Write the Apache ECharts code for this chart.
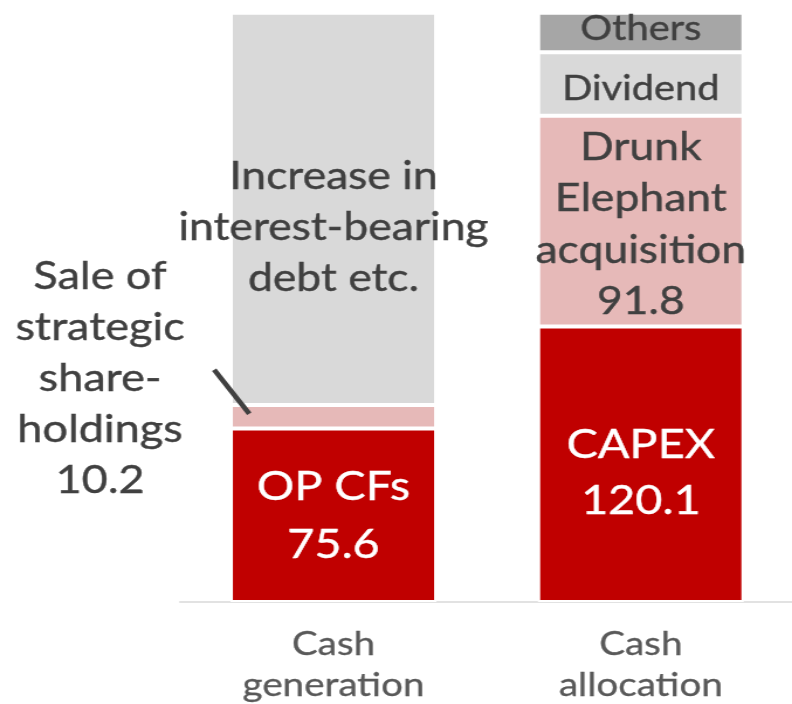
<!DOCTYPE html>
<html lang="en">
<head>
    <meta charset="UTF-8">
    <title>Cash generation / allocation</title>
    <script src="https://cdn.jsdelivr.net/npm/echarts@6/dist/echarts.min.js"></script>
    <style>
        html, body { margin: 0; padding: 0; overflow: hidden; background: #fff; }
        /* the source picture is stretched sideways, so the chart is drawn narrow and widened */
        #main { width: 677px; height: 704px; transform: scaleX(1.1699); transform-origin: 0 0; }
    </style>
</head>
<body>
<div id="main"></div>

<script type="text/javascript">
    // data
    var categories = ['Cash\ngeneration', 'Cash\nallocation'];

    var generationNames = ['OP CFs', 'Sale of strategic share-holdings', 'Increase in interest-bearing debt etc.'];
    var generationValues = [75.6, 10.2, 171];
    var generationLabels = ['OP CFs\n75.6', 'Sale of\nstrategic\nshare-\nholdings\n10.2', 'Increase in\ninterest-bearing\ndebt etc.'];

    var allocationNames = ['CAPEX', 'Drunk Elephant acquisition', 'Dividend', 'Others'];
    var allocationValues = [120.1, 91.8, 27.7, 17.2];
    var allocationLabels = ['CAPEX\n120.1', 'Drunk\nElephant\nacquisition\n91.8', 'Dividend', 'Others'];

    // styles
    var red = '#C00000', pink = '#E6B9B8', light = '#D9D9D9', mid = '#A6A6A6';
    var dark = '#404040';
    var generationStyle = [
        {color: red, text: '#fff', size: 40, lh: 58, offset: [0, 1]},
        {color: pink, text: dark, size: 38.5, lh: 51, offset: [-199.5, -38.5]},
        {color: light, text: dark, size: 38, lh: 51, offset: [0, 19]}
    ];
    var allocationStyle = [
        {color: red, text: '#fff', size: 40, lh: 56, offset: [0, 9]},
        {color: pink, text: dark, size: 38, lh: 51.5, offset: [0, 3.5]},
        {color: light, text: dark, size: 34, lh: 40, offset: [0, 5]},
        {color: mid, text: dark, size: 34, lh: 40, offset: [0, -3]}
    ];

    var total = allocationValues.reduce(function (a, b) { return a + b; }, 0);

    function makeSeries(names, values, labels, styles, col) {
        return names.map(function (name, i) {
            var st = styles[i];
            var data = col === 0 ? [values[i], '-'] : ['-', values[i]];
            return {
                name: name,
                type: 'bar',
                stack: 'total',
                barWidth: 176,
                data: data,
                itemStyle: {color: st.color, borderColor: '#fff', borderWidth: 2},
                label: {
                    show: true,
                    position: 'inside',
                    offset: st.offset,
                    formatter: labels[i],
                    color: st.text,
                    fontFamily: 'Lato',
                    fontSize: st.size,
                    lineHeight: st.lh,
                    textBorderColor: st.text,
                    textBorderWidth: 0.4,
                    align: 'center'
                },
                emphasis: {disabled: true}
            };
        });
    }

    var series = makeSeries(generationNames, generationValues, generationLabels, generationStyle, 0)
        .concat(makeSeries(allocationNames, allocationValues, allocationLabels, allocationStyle, 1));

    var myChart = echarts.init(document.getElementById('main'));
    myChart.setOption({
        animation: false,
        grid: {left: 153.7, width: 525.4, top: 12.7, bottom: 102, outerBoundsMode: 'none'},
        xAxis: {
            type: 'category',
            data: categories,
            axisLine: {show: true, lineStyle: {color: '#D9D9D9', width: 1.5}},
            axisTick: {show: false},
            axisLabel: {
                color: '#595959',
                fontFamily: 'Lato',
                fontSize: 33,
                lineHeight: 41,
                margin: 22,
                interval: 0,
                textBorderColor: '#595959',
                textBorderWidth: 0.3
            }
        },
        yAxis: {type: 'value', min: 0, max: total, show: false, splitLine: {show: false}},
        series: series
    });

    // leader line from the sale label to its thin segment
    var anchor = myChart.convertToPixel({gridIndex: 0}, [0, generationValues[0] + generationValues[1] / 2]);
    myChart.setOption({
        graphic: [{
            type: 'line',
            shape: {x1: anchor[0] - 102, y1: anchor[1] - 47, x2: anchor[0] - 72, y2: anchor[1] - 3},
            style: {stroke: dark, lineWidth: 4.5},
            z: 100
        }]
    });
</script>
</body>
</html>
